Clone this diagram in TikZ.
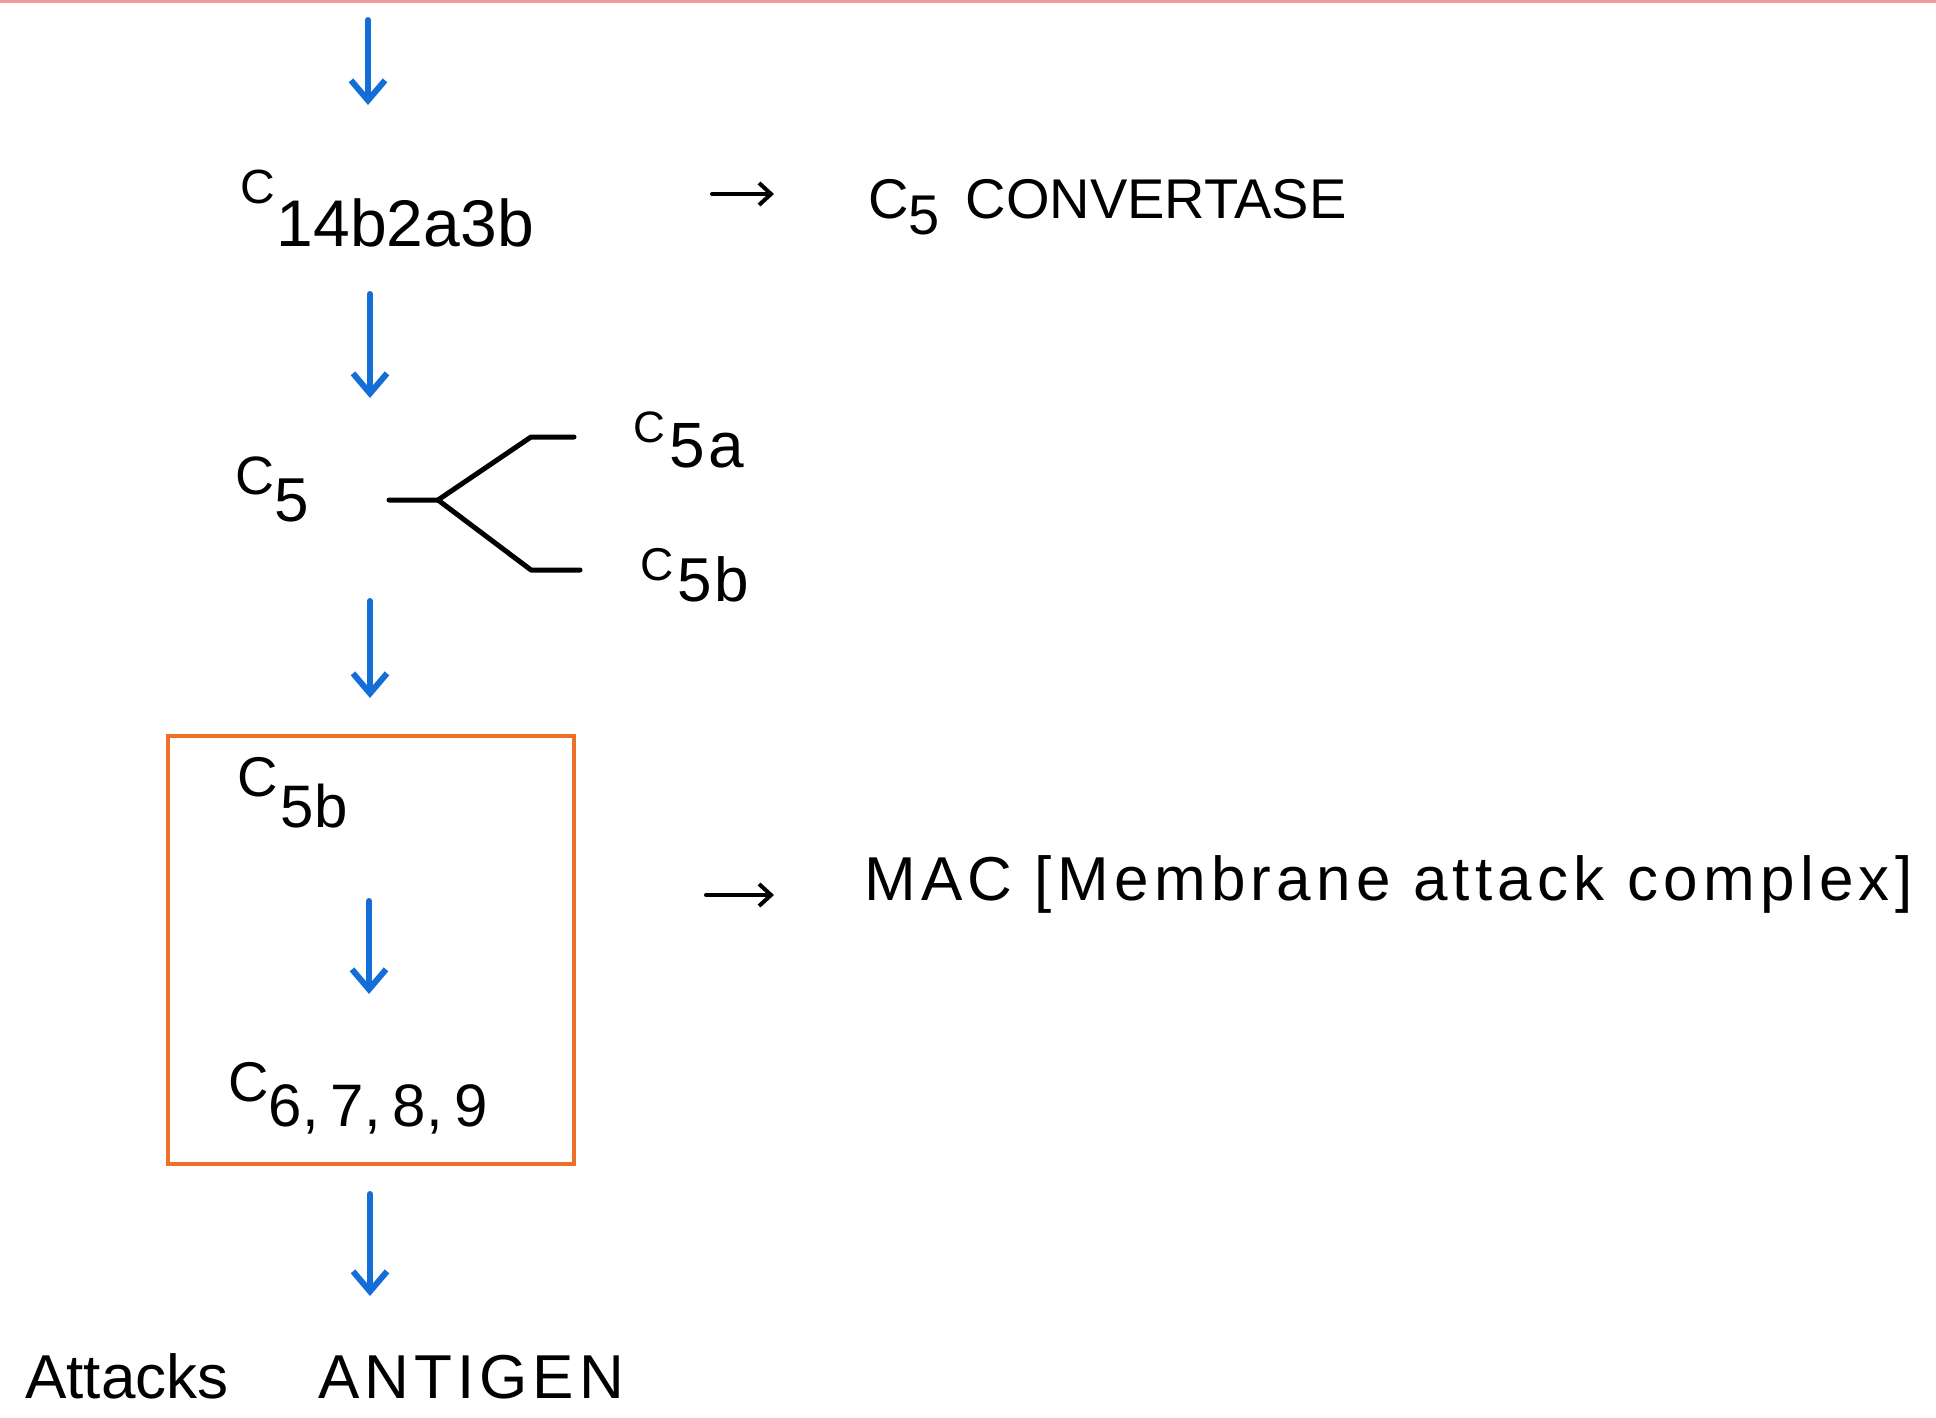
\documentclass[tikz,border=0pt]{standalone}
\usepackage{fontspec}
\setmainfont{Liberation Sans}
\usetikzlibrary{arrows.meta}
\definecolor{flowblue}{RGB}{20,110,215}
\definecolor{boxorange}{RGB}{237,112,40}
\definecolor{topline}{RGB}{240,155,155}
\newcommand\fs[1]{\fontsize{#1}{#1}\selectfont}
\tikzset{
  flow/.style={draw=flowblue, line width=6pt, line cap=round,
    -{Straight Barb[length=20pt,width=34pt,line width=6pt]}},
  small/.style={draw=black, line width=4pt, line cap=round,
    -{Straight Barb[length=12pt,width=22pt,line width=4pt]}},
  branch/.style={draw=black, line width=5pt, line cap=round, line join=round},
  lbl/.style={inner sep=0pt, anchor=base west, text=black},
  mac/.style={draw=boxorange, line width=4.5pt, minimum width=406pt, minimum height=428pt, inner sep=0pt}
}
\begin{document}
\begin{tikzpicture}[x=1pt,y=-1pt]
\useasboundingbox (0,0) rectangle (1936,1418);
\fill[white] (0,0) rectangle (1936,1418);
\draw[topline, line width=3pt] (0,1.5) -- (1936,1.5);

% labels
\node[lbl] (c14) at (240,204) {\fs{48}C\hspace{2pt}\raisebox{-43pt}{\fs{66}14b2a3b}};
\node[lbl] (conv) at (868,218) {\fs{56}C\raisebox{-17pt}{\fs{56}5}\hspace{26pt}CONVERTASE};
\node[lbl] (c5) at (235,494) {\fs{54}C\raisebox{-27pt}{\fs{62}5}};
\node[lbl] (c5a) at (633,442) {\fs{44}C\hspace{5pt}\raisebox{-25pt}{\fs{64}\addfontfeature{LetterSpace=5}5a}};
\node[lbl] (c5b) at (640,580) {\fs{46}C\hspace{4pt}\raisebox{-21pt}{\fs{62}\addfontfeature{LetterSpace=5}5b}};
\node[mac] (box) at (371,950) {};
\node[lbl] (c5bin) at (237,796) {\fs{56}C\hspace{3pt}\raisebox{-31pt}{\fs{60}5b}};
\node[lbl] (c6789) at (228,1101) {\fs{56}C\raisebox{-25pt}{\fs{60}6,\hspace{12pt}7,\hspace{12pt}8,\hspace{12pt}9}};
\node[lbl] (macl) at (864,900) {\fs{62}\addfontfeature{LetterSpace=8.5}MAC [Membrane attack complex]};
\node[lbl] (att) at (25,1398) {\fs{62}Attacks\hspace{90pt}{\addfontfeature{LetterSpace=8}ANTIGEN}};

% arrow end points
\coordinate (a1s) at (368,20);   \coordinate (a1e) at (368,105);
\coordinate (a2s) at (370,294);  \coordinate (a2e) at (370,398);
\coordinate (a3s) at (370,601);  \coordinate (a3e) at (370,698);
\coordinate (a4s) at (369,901);  \coordinate (a4e) at (369,994);
\coordinate (a5s) at (370,1194); \coordinate (a5e) at (370,1296);
\draw[flow] (a1s) -- (a1e);
\draw[flow] (a2s) -- (a2e);
\draw[flow] (a3s) -- (a3e);
\draw[flow] (a4s) -- (a4e);
\draw[flow] (a5s) -- (a5e);

% small black arrows
\coordinate (s1s) at (712,194); \coordinate (s1e) at (774,194);
\coordinate (s2s) at (706,895); \coordinate (s2e) at (774,895);
\draw[small] (s1s) -- (s1e);
\draw[small] (s2s) -- (s2e);

% branch
\coordinate (b0) at (389,500);
\coordinate (bj) at (438,500);
\coordinate (bu) at (531,437);
\coordinate (bue) at (574,437);
\coordinate (bd) at (531,570);
\coordinate (bde) at (580,570);
\draw[branch] (b0) -- (bj) -- (bu) -- (bue);
\draw[branch] (bj) -- (bd) -- (bde);
\end{tikzpicture}
\end{document}
